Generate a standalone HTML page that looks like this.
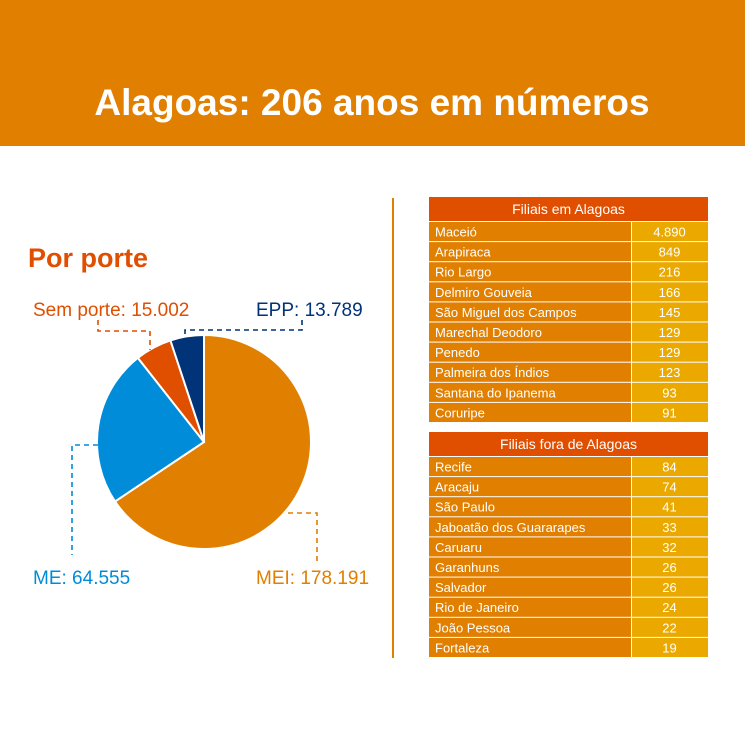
<!DOCTYPE html>
<html><head><meta charset="utf-8"><style>
html,body{margin:0;padding:0;background:#fff;}
svg{display:block;font-family:"Liberation Sans","DejaVu Sans",sans-serif;}
</style></head><body>
<svg width="745" height="745" viewBox="0 0 745 745">
<rect x="0" y="0" width="745" height="146" fill="#E07F00"/>
<text x="372" y="115" text-anchor="middle" fill="#fff" font-size="37" font-weight="bold">Alagoas: 206 anos em números</text>
<text x="28" y="267" fill="#E04E00" font-size="27" font-weight="bold">Por porte</text>
<line x1="393" y1="198" x2="393" y2="658" stroke="#E07F00" stroke-width="2"/>
<g id="pie"></g>
<g fill="none" stroke-width="1.6" stroke-dasharray="5,4">
<polyline points="98,320 98,331 150,331 150,350" stroke="#E04E00"/>
<polyline points="302,320 302,330 185,330 185,340" stroke="#003377"/>
<polyline points="98,445 72,445 72,555" stroke="#008CD8"/>
<polyline points="288,513 317,513 317,562" stroke="#E07F00"/>
</g>
<text x="33" y="316" fill="#E04E00" font-size="19">Sem porte: 15.002</text>
<text x="256" y="316" fill="#003377" font-size="19">EPP: 13.789</text>
<text x="33" y="584" fill="#008CD8" font-size="19">ME: 64.555</text>
<text x="256" y="584" fill="#E07F00" font-size="19">MEI: 178.191</text>
<g id="tables"></g>
</svg>
<script>
const sliceLabels=["MEI","ME","Sem porte","EPP"];
const sliceValues=[178191,64555,15002,13789];
const sliceColors=["#E07F00","#008CD8","#E04E00","#003377"];
const t1Names=["Maceió","Arapiraca","Rio Largo","Delmiro Gouveia","São Miguel dos Campos","Marechal Deodoro","Penedo","Palmeira dos Índios","Santana do Ipanema","Coruripe"];
const t1Values=["4.890","849","216","166","145","129","129","123","93","91"];
const t2Names=["Recife","Aracaju","São Paulo","Jaboatão dos Guararapes","Caruaru","Garanhuns","Salvador","Rio de Janeiro","João Pessoa","Fortaleza"];
const t2Values=["84","74","41","33","32","26","26","24","22","19"];
const NS="http://www.w3.org/2000/svg";
const cx=204,cy=442,r=107;
const pie=document.getElementById('pie');
const total=sliceValues.reduce((a,b)=>a+b,0);
let a0=0;
sliceValues.forEach((v,i)=>{
 const a1=a0+v/total*2*Math.PI;
 const x0=cx+r*Math.sin(a0),y0=cy-r*Math.cos(a0),x1=cx+r*Math.sin(a1),y1=cy-r*Math.cos(a1);
 const p=document.createElementNS(NS,'path');
 p.setAttribute('d',`M${cx},${cy}L${x0},${y0}A${r},${r} 0 ${(a1-a0)>Math.PI?1:0} 1 ${x1},${y1}Z`);
 p.setAttribute('fill',sliceColors[i]);p.setAttribute('stroke','#fff');p.setAttribute('stroke-width','2');
 
 
 pie.appendChild(p);a0=a1;
});
const tg=document.getElementById('tables');
function mk(tag,attrs,txt){const e=document.createElementNS(NS,tag);for(const k in attrs)e.setAttribute(k,attrs[k]);if(txt!==undefined)e.textContent=txt;tg.appendChild(e);return e;}
function table(top,title,names,vals,key){
 const x=429,w=279,vx=631,hh=24,rh=20.1;
 const h=mk('rect',{x:x,y:top,width:w,height:hh,fill:'#E04E00'});
 
 
 const ht=mk('text',{x:x+w/2,y:top+17,'text-anchor':'middle',fill:'#fff','font-size':'14'},title);
 
 
 names.forEach((n,i)=>{
  const y=top+hh+1+i*rh;
  const a=mk('rect',{x:x,y:y,width:vx-x,height:rh-1,fill:'#E07F00'});
  
  
  const b=mk('rect',{x:vx+1,y:y,width:x+w-vx-1,height:rh-1,fill:'#EBA900'});
  
  
  const t=mk('text',{x:x+6,y:y+14.5,fill:'#fff','font-size':'13'},n);
  
  
  const t2=mk('text',{x:(vx+x+w)/2,y:y+14.5,fill:'#fff','font-size':'13','text-anchor':'middle'},vals[i]);
  
  
 });
}
table(197,"Filiais em Alagoas",t1Names,t1Values,"filiais-alagoas");
table(432,"Filiais fora de Alagoas",t2Names,t2Values,"filiais-fora");
</script>
</body></html>
